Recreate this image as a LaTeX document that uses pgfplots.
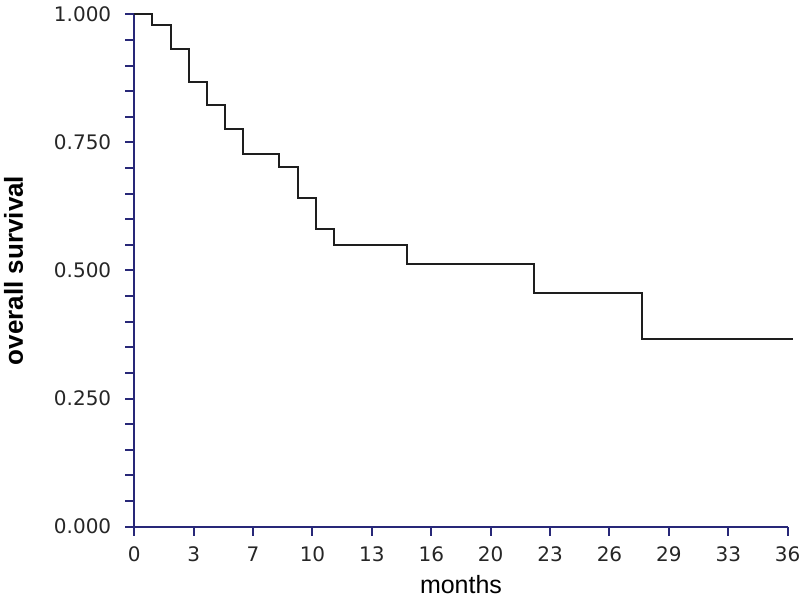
\documentclass[border=0pt]{standalone}
\usepackage{pgfplots}
\pgfplotsset{compat=1.18}
\usepackage{fontspec}
\setmainfont{Liberation Sans}
\newfontfamily\tickfont{DejaVu Sans}
\definecolor{axisnavy}{RGB}{40,40,120}
\definecolor{curve}{RGB}{30,30,30}
\begin{document}
\begin{tikzpicture}
\useasboundingbox (0,0) rectangle (400pt,298.5pt);
\begin{axis}[
    at={(67.15pt,35.15pt)}, anchor=south west,
    scale only axis,
    width=326.7pt, height=256.2pt,
    xmin=0, xmax=36, ymin=0, ymax=1,
    clip=false,
    axis lines*=left,
    axis line style={axisnavy, line width=1pt},
    tick align=outside,
    tick style={axisnavy, line width=1pt},
    major tick length=4.5pt, minor tick length=4.5pt,
    xtick={0,3.2727,6.5455,9.8182,13.0909,16.3636,19.6364,22.9091,26.1818,29.4545,32.7273,36},
    xticklabels={0,3,7,10,13,16,20,23,26,29,33,36},
    ytick={0,0.25,0.5,0.75,1},
    minor y tick num=4,
    /pgf/number format/assume math mode=true,
    ticklabel style={font=\tickfont\fontsize{10}{12}\selectfont, color=black!85},
    xticklabel style={yshift=-2pt},
    yticklabel style={xshift=-3.5pt, /pgf/number format/.cd, fixed, fixed zerofill, precision=3},
    xlabel={months},
    ylabel={\bfseries overall survival},
    xlabel style={at={(axis description cs:0.5,0)}, anchor=base, yshift=-33.3pt, font=\fontsize{12.5}{14}\selectfont},
    ylabel style={at={(axis description cs:0,0.5)}, anchor=base, yshift=55.7pt, font=\fontsize{13}{15}\selectfont},
]
\addplot[const plot, curve, line width=1pt] coordinates {
    (0,1) (1,0.9785) (2,0.9329) (3,0.8679) (4,0.8224) (5,0.7756) (6,0.7274)
    (8,0.7026) (9,0.6415) (10,0.5816) (11,0.5498) (15,0.5121) (22,0.4555)
    (28,0.3663) (36.3,0.3663)
};
\end{axis}
\end{tikzpicture}
\end{document}
